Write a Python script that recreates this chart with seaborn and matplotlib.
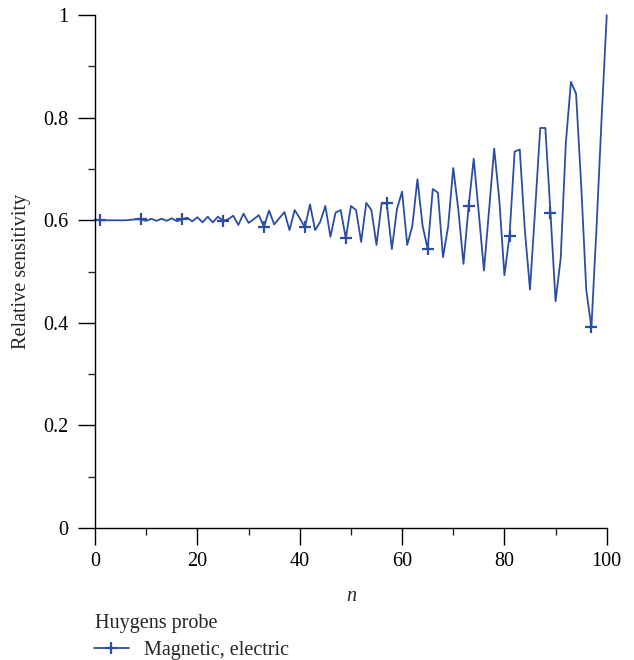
import numpy as np
import pandas as pd
import matplotlib
matplotlib.use("Agg")
import matplotlib.pyplot as plt
import seaborn as sns

# data
n_values = list(range(1, 101))
sensitivity = [
    0.600, 0.600, 0.600, 0.600, 0.600, 0.600, 0.601, 0.602, 0.602, 0.599,
    0.603, 0.599, 0.603, 0.599, 0.604, 0.598, 0.602, 0.605, 0.598, 0.606,
    0.596, 0.607, 0.596, 0.607, 0.599, 0.602, 0.609, 0.591, 0.613, 0.595,
    0.602, 0.610, 0.587, 0.619, 0.592, 0.604, 0.616, 0.581, 0.620, 0.604,
    0.586, 0.631, 0.581, 0.597, 0.628, 0.568, 0.615, 0.620, 0.565, 0.628,
    0.620, 0.558, 0.634, 0.620, 0.552, 0.633, 0.633, 0.544, 0.622, 0.656,
    0.552, 0.589, 0.680, 0.590, 0.544, 0.661, 0.654, 0.528, 0.588, 0.702,
    0.620, 0.515, 0.627, 0.720, 0.613, 0.502, 0.620, 0.740, 0.640, 0.493,
    0.570, 0.734, 0.738, 0.580, 0.465, 0.620, 0.780, 0.780, 0.615, 0.442,
    0.526, 0.750, 0.870, 0.847, 0.670, 0.464, 0.391, 0.585, 0.800, 1.000,
]
series_label = "Magnetic, electric"
legend_title = "Huygens probe"
x_ticks = [0, 20, 40, 60, 80, 100]
y_ticks = [0, 0.2, 0.4, 0.6, 0.8, 1.0]
y_tick_labels = ["0", "0.2", "0.4", "0.6", "0.8", "1"]

df = pd.DataFrame({"n": n_values, "sens": sensitivity})

sns.set_style("ticks")
plt.rcParams["font.family"] = ["Liberation Serif", "DejaVu Serif"]

fig = plt.figure(figsize=(6.34, 6.6), dpi=100)
ax = fig.add_axes([0.150, 0.200, 0.807, 0.777])

blue = "#2b4ea3"
fs = 14.5
sns.lineplot(data=df, x="n", y="sens", ax=ax, color=blue, linewidth=1.3,
             marker="+", markersize=9, markeredgewidth=1.6,
             markeredgecolor=blue, markerfacecolor=blue,
             markevery=slice(0, None, 8), label=series_label, clip_on=False)

ax.set_xlim(0, 100)
ax.set_ylim(0, 1)
ax.set_xticks(x_ticks)
ax.set_xticklabels([str(t) for t in x_ticks])
ax.set_yticks(y_ticks)
ax.set_yticklabels(y_tick_labels)
ax.set_xticks(np.arange(10, 100, 20), minor=True)
ax.set_yticks(np.arange(0.1, 1.0, 0.2), minor=True)

ax.tick_params(axis="both", which="major", direction="out", length=12,
               width=1.0, labelsize=fs, colors="black")
ax.tick_params(axis="y", which="major", pad=7)
ax.tick_params(axis="x", which="major", pad=5)
ax.tick_params(axis="both", which="minor", direction="out", length=5,
               width=1.0)
sns.despine(ax=ax)
for s in ["left", "bottom"]:
    ax.spines[s].set_linewidth(1.0)
    ax.spines[s].set_color("black")

ax.set_xlabel("n", fontsize=fs, style="italic", labelpad=12)
ax.set_ylabel("Relative sensitivity", fontsize=fs, labelpad=9)

ax.get_legend().remove()
handles, labels = ax.get_legend_handles_labels()
fig.legend(handles, labels, loc="center left", bbox_to_anchor=(0.148, 0.015),
           frameon=False, fontsize=fs, handlelength=1.74,
           handletextpad=0.75, borderpad=0, borderaxespad=0)
fig.text(0.150, 0.056, legend_title, fontsize=fs, ha="left", va="center")

fig.savefig("out.png", dpi=100)
